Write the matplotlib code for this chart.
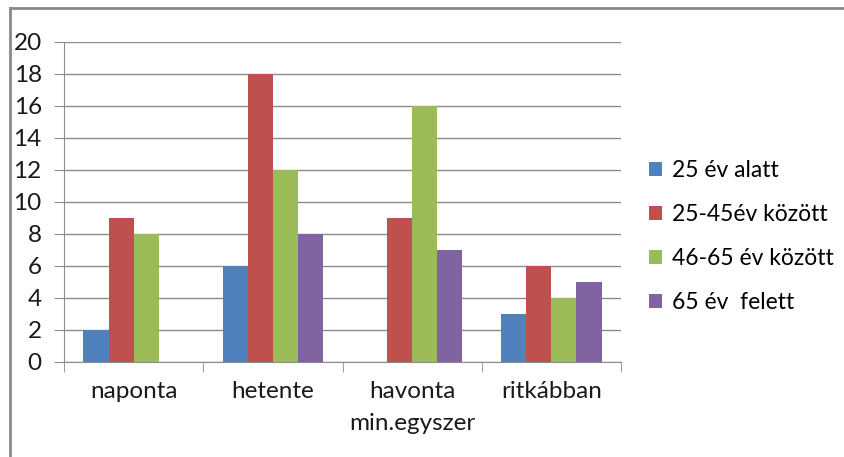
import numpy as np
import matplotlib.pyplot as plt
from matplotlib.lines import Line2D

plt.rcParams['font.family'] = ['Lato', 'DejaVu Sans']

categories = ["naponta", "hetente", "havonta\nmin.egyszer", "ritkábban"]
series = ["25 év alatt", "25-45év között", "46-65 év között", "65 év  felett"]
under25 = [2, 6, 0, 3]
age25_45 = [9, 18, 9, 6]
age46_65 = [8, 12, 16, 4]
over65 = [0, 8, 7, 5]
colors = ["#4F81BD", "#C0504D", "#9BBB59", "#8064A2"]

fig = plt.figure(figsize=(8.44, 4.57), dpi=100)
ax = fig.add_axes([64/844, 1-362/457, (621-64)/844, (362-42)/457])

x = np.arange(len(categories))
w = 0.18
for i, (vals, lab, c) in enumerate(zip([under25, age25_45, age46_65, over65], series, colors)):
    ax.bar(x + (i-1.5)*w, vals, w, color=c, label=lab, zorder=3)

ax.set_xlim(-0.5, 3.5)
ax.set_ylim(0, 20)
ax.set_yticks(range(0, 21, 2))
ax.yaxis.grid(True, color='#8c8c8c', lw=1, zorder=0)
ax.set_xticks(x)
ax.set_xticklabels(categories, fontsize=17.5, color='#1a1a1a', linespacing=1.65)
ax.set_xticks(np.arange(-0.5, 4, 1), minor=True)
ax.tick_params(axis='x', which='major', length=0, pad=14)
ax.tick_params(axis='x', which='minor', length=7, color='#8c8c8c')
ax.tick_params(axis='y', length=7, color='#8c8c8c', labelsize=17.5, labelcolor='#1a1a1a', pad=9)
for s in ['top', 'right']:
    ax.spines[s].set_visible(False)
for s in ['left', 'bottom']:
    ax.spines[s].set_color('#8c8c8c')

fig.legend(loc='upper left', bbox_to_anchor=(640/844, 1-151/457), frameon=False,
           fontsize=16.5, handlelength=0.55, handleheight=0.55, handletextpad=0.45,
           labelspacing=1.0, borderaxespad=0)

# chart border (top and left)
fig.add_artist(Line2D([10/844, 10/844], [0, 1-8/457], color='#8a8a8a', lw=2))
fig.add_artist(Line2D([10/844, 1], [1-8/457, 1-8/457], color='#8a8a8a', lw=2))

plt.savefig("out.png", dpi=100)
